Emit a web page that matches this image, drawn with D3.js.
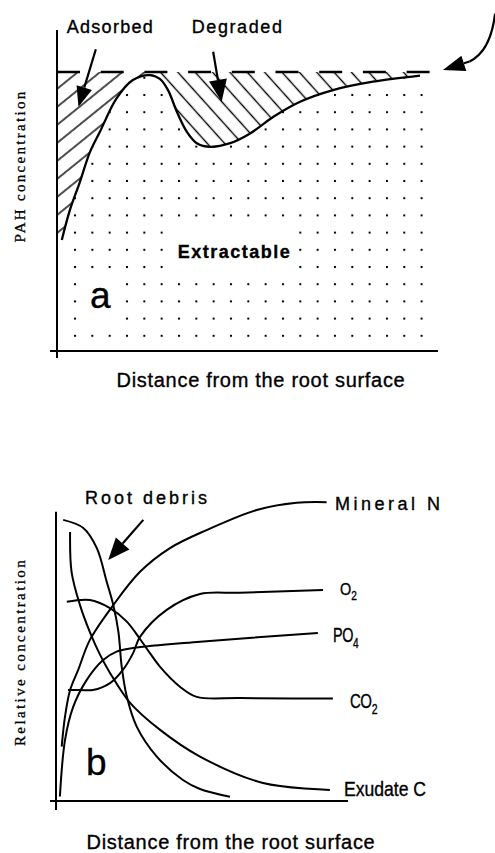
<!DOCTYPE html>
<html>
<head>
<meta charset="utf-8">
<script src="https://d3js.org/d3.v7.min.js"></script>
<style>
  body { margin: 0; background: #fff; }
  svg { display: block; }
  .sans { font-family: "Liberation Sans", Arial, Helvetica, sans-serif; stroke: #000; stroke-width: 0.35px; }
  .serif { font-family: "Liberation Serif", "Times New Roman", serif; stroke: #000; stroke-width: 0.3px; }
</style>
</head>
<body>
<svg id="chart" width="495" height="853"></svg>
<script>
////////// DATA //////////

// panel a : PAH concentration against distance (arbitrary units 0-100)
const pahDistance = [1.3, 3.5, 6.2, 8.9, 11.6, 16.1, 20.5, 25.1, 27.8, 30, 32.4, 35.1, 37.8, 41.4, 46.8, 52.2, 58.5, 65.7, 74.6, 85.4, 98.1];
const pahConc     = [39.6, 50.4, 60.5, 71.2, 78.5, 90.5, 97.1, 98.9, 97.5, 93.5, 85.7, 78.5, 74.4, 73.1, 74.4, 77.9, 83.9, 89.3, 93.5, 96.5, 98.7];
const initialConc = 100;   // dashed line
const peakIndex = 7;       // where adsorbed zone ends and degraded zone starts
const regionLabels = ["Adsorbed", "Degraded", "Extractable"];

// panel b : relative concentrations against distance
const seriesNames = ["Root debris", "Exudate C", "Mineral N", "O2", "PO4", "CO2"];
const rootDebris = [[2.4, 93.7], [9.1, 91], [13.6, 84.3], [16.9, 73.1], [19.1, 65.3], [20.8, 56.4], [21.9, 44.8], [23.6, 34.8], [26.9, 24.8], [33.6, 14.8], [42.3, 7], [48, 4], [58, 1.4]];
const exudateC   = [[4.7, 89.7], [5.2, 76.3], [8, 65.3], [11.3, 56.3], [14.7, 48.7], [18, 42.7], [24.7, 32.7], [34.7, 23.7], [48, 14.8], [69, 6], [91.3, 3.7]];
const mineralN   = [[1.9, 18.1], [3, 28.1], [4.7, 37], [7.4, 43.7], [11.3, 53.7], [19.1, 65.3], [28, 76.4], [38, 84.3], [50.2, 90.3], [66.9, 97], [80.2, 99.4], [90.2, 99.6]];
const oxygen     = [[4, 37], [8, 37], [12.3, 37], [18, 39.3], [22.3, 43.7], [25.7, 49.3], [28, 54.7], [36.9, 63.7], [48, 69], [61.3, 69.4], [89, 70.3]];
const phosphate  = [[1.3, 1.5], [3, 20.3], [5.7, 31.3], [10.2, 40.3], [15.7, 47], [20.2, 49.8], [25.7, 51], [48, 53.1], [87.3, 56]];
const carbonDiox = [[3.6, 66.4], [11.3, 67], [18, 64.3], [23.6, 59.8], [28, 54], [31.3, 49.3], [34.7, 44.7], [41.3, 38.1], [46.9, 34.7], [61.3, 34.3], [92.3, 34.2]];

const axisTitleX = "Distance from the root surface";
const axisTitleA = "PAH concentration";
const axisTitleB = "Relative concentration";

////////// SETUP //////////

const svg = d3.select("#chart");
const defs = svg.append("defs");

// panel a scales
const xA = d3.scaleLinear().domain([0, 100]).range([57, 427]);
const yA = d3.scaleLinear().domain([0, 100]).range([350, 72]);
// panel b scales
const xB = d3.scaleLinear().domain([0, 100]).range([56, 356]);
const yB = d3.scaleLinear().domain([0, 100]).range([801, 501]);

/**
 * line pattern, rotated by angle (degrees)
 */
function hatch(id, angle, gap) {
    const p = defs.append("pattern")
        .attr("id", id)
        .attr("patternUnits", "userSpaceOnUse")
        .attr("width", 20)
        .attr("height", gap)
        .attr("patternTransform", "rotate(" + angle + ")");
    p.append("line")
        .attr("x1", 0).attr("x2", 20)
        .attr("y1", gap / 2).attr("y2", gap / 2)
        .attr("stroke", "#000")
        .attr("stroke-width", 1.4);
}
hatch("hatchUp", -39, 14);
hatch("hatchDown", 48, 12.9);

// dot stipple for the extractable zone
const dotW = 17.33, dotH = 17.2;
const dots = defs.append("pattern")
    .attr("id", "dots")
    .attr("patternUnits", "userSpaceOnUse")
    .attr("x", 75 - dotW / 2).attr("y", 95 - dotH / 2)
    .attr("width", dotW).attr("height", dotH);
dots.append("rect")
    .attr("x", dotW / 2 - 1).attr("y", dotH / 2 - 1)
    .attr("width", 2).attr("height", 2)
    .attr("fill", "#000");

/**
 * draws a straight arrow with a filled head from tail to tip (pixels)
 */
function arrow(g, tail, tip, headLen, headW) {
    const dx = tip[0] - tail[0], dy = tip[1] - tail[1];
    const len = Math.hypot(dx, dy);
    const ux = dx / len, uy = dy / len;
    const bx = tip[0] - ux * headLen, by = tip[1] - uy * headLen;
    g.append("line")
        .attr("x1", tail[0]).attr("y1", tail[1])
        .attr("x2", bx).attr("y2", by)
        .attr("stroke", "#000").attr("stroke-width", 2.2);
    g.append("polygon")
        .attr("points", [
            tip,
            [bx - uy * headW / 2, by + ux * headW / 2],
            [bx + uy * headW / 2, by - ux * headW / 2]
        ].map(p => p.join(",")).join(" "))
        .attr("fill", "#000");
}

////////// PANEL A //////////

const ga = svg.append("g");
const pahPts = pahDistance.map((d, i) => [d, pahConc[i]]);
const curveA = d3.line()
    .x(d => xA(d[0]))
    .y(d => yA(d[1]))
    .curve(d3.curveCatmullRom.alpha(0.5));

// extractable zone (dots below the curve)
const extractArea = d3.area()
    .x(d => xA(d[0]))
    .y1(d => yA(d[1]))
    .y0(yA(2.8))
    .curve(d3.curveCatmullRom.alpha(0.5));
ga.append("path")
    .attr("d", extractArea(pahPts))
    .attr("fill", "url(#dots)");
const last = pahPts[pahPts.length - 1];
ga.append("rect")
    .attr("x", xA(last[0]))
    .attr("y", yA(last[1]) + 4)
    .attr("width", xA(100) - xA(last[0]))
    .attr("height", yA(2.8) - yA(last[1]) - 4)
    .attr("fill", "url(#dots)");

// adsorbed zone
const rising = pahPts.slice(0, peakIndex + 1);
ga.append("path")
    .attr("d", curveA(rising)
        + "L" + xA(rising[rising.length - 1][0]) + "," + yA(initialConc)
        + "L" + xA(0) + "," + yA(initialConc)
        + "L" + xA(0) + "," + yA(rising[0][1]) + "Z")
    .attr("fill", "url(#hatchUp)");

// degraded zone
const falling = pahPts.slice(peakIndex);
ga.append("path")
    .attr("d", curveA(falling)
        + "L" + xA(last[0]) + "," + yA(initialConc)
        + "L" + xA(falling[0][0]) + "," + yA(initialConc) + "Z")
    .attr("fill", "url(#hatchDown)");

// blank boxes behind the labels
ga.append("rect").attr("x", 165).attr("y", 224).attr("width", 130).attr("height", 51).attr("fill", "#fff");
ga.append("rect").attr("x", 84).attr("y", 276).attr("width", 34).attr("height", 50).attr("fill", "#fff");

// initial concentration
ga.append("line")
    .attr("x1", xA(0)).attr("x2", xA(100) + 3)
    .attr("y1", yA(initialConc)).attr("y2", yA(initialConc))
    .attr("stroke", "#000").attr("stroke-width", 2.6)
    .attr("stroke-dasharray", "23,20.7");

// PAH curve
ga.append("path")
    .attr("d", curveA(pahPts))
    .attr("fill", "none")
    .attr("stroke", "#000")
    .attr("stroke-width", 2.3);

// axes
ga.append("line")
    .attr("x1", xA(0)).attr("x2", xA(0))
    .attr("y1", 30).attr("y2", yA(0) + 8)
    .attr("stroke", "#000").attr("stroke-width", 2);
ga.append("line")
    .attr("x1", xA(0) - 7).attr("x2", 438)
    .attr("y1", yA(0) + 1).attr("y2", yA(0) + 1)
    .attr("stroke", "#000").attr("stroke-width", 2);

// arrows
arrow(ga, [xA(10.5), yA(108.2)], [xA(5.8), yA(87.5)], 20, 16);
arrow(ga, [xA(42.2), yA(107.3)], [xA(44.5), yA(89.3)], 22, 18);
ga.append("path")
    .attr("d", "M" + xA(118.4) + "," + yA(121) + " Q" + xA(117.2) + "," + yA(107.5) + " " + xA(111.5) + "," + yA(103.8))
    .attr("fill", "none").attr("stroke", "#000").attr("stroke-width", 2.2);
arrow(ga, [xA(111.5), yA(103.8)], [xA(104.3), yA(100.7)], 22, 16);

// labels
ga.append("text").attr("class", "sans")
    .attr("x", 66.7).attr("y", 33)
    .style("font-size", "18px").style("letter-spacing", "1.3px")
    .text(regionLabels[0]);
ga.append("text").attr("class", "sans")
    .attr("x", 191.7).attr("y", 33)
    .style("font-size", "18px").style("letter-spacing", "1.6px")
    .text(regionLabels[1]);
ga.append("text").attr("class", "sans")
    .attr("x", 177.7).attr("y", 258)
    .style("font-size", "18px").style("font-weight", "bold").style("letter-spacing", "1.5px")
    .text(regionLabels[2]);
ga.append("text").attr("class", "sans")
    .attr("x", 90).attr("y", 308)
    .style("font-size", "37px")
    .text("a");
ga.append("text").attr("class", "sans")
    .attr("x", 261).attr("y", 387)
    .attr("text-anchor", "middle")
    .style("font-size", "20px").style("letter-spacing", "0.7px")
    .text(axisTitleX);
ga.append("text").attr("class", "serif")
    .attr("transform", "translate(25,166) rotate(-90)")
    .attr("text-anchor", "middle")
    .style("font-size", "15px").style("letter-spacing", "2.3px")
    .text(axisTitleA);

////////// PANEL B //////////

const gb = svg.append("g");
const curveB = d3.line()
    .x(d => xB(d[0]))
    .y(d => yB(d[1]))
    .curve(d3.curveCatmullRom.alpha(0.5));

const series = [rootDebris, exudateC, mineralN, oxygen, phosphate, carbonDiox];
gb.selectAll("path.series")
    .data(series)
    .enter()
    .append("path")
    .attr("class", "series")
    .attr("d", d => curveB(d))
    .attr("fill", "none")
    .attr("stroke", "#000")
    .attr("stroke-width", 2);

// axes
gb.append("line")
    .attr("x1", xB(0)).attr("x2", xB(0))
    .attr("y1", 511.7).attr("y2", yB(0) + 9)
    .attr("stroke", "#000").attr("stroke-width", 2);
gb.append("line")
    .attr("x1", xB(0) - 6).attr("x2", 348)
    .attr("y1", yB(0)).attr("y2", yB(0))
    .attr("stroke", "#000").attr("stroke-width", 2);

// root debris arrow
arrow(gb, [xB(29.1), yB(93.7)], [xB(17.4), yB(80.3)], 22, 18);

gb.append("text").attr("class", "sans")
    .attr("x", 85).attr("y", 504)
    .style("font-size", "18px").style("letter-spacing", "3px")
    .text(seriesNames[0]);

/**
 * label at the end of a series, with optional subscript, squeezed horizontally by sx
 */
function endLabel(data, dx, dy, main, sub, size, spacing, sx) {
    const p = data[data.length - 1];
    const t = gb.append("text").attr("class", "sans")
        .attr("transform", "translate(" + (xB(p[0]) + dx) + "," + (yB(p[1]) + dy) + ") scale(" + sx + ",1)")
        .style("font-size", size + "px")
        .style("letter-spacing", spacing + "px");
    t.append("tspan").text(main);
    if (sub) {
        t.append("tspan")
            .attr("dy", size * 0.3)
            .style("font-size", (size * 0.7) + "px")
            .text(sub);
    }
    return t;
}
endLabel(mineralN, 8.5, 7.7, "Mineral N", null, 18, 3.5, 1);
endLabel(oxygen, 17, 5, "O", "2", 17, 0, 0.85);
endLabel(phosphate, 15, 9, "PO", "4", 20, -0.5, 0.72);
endLabel(carbonDiox, 17, 10, "CO", "2", 20, -0.5, 0.75);
endLabel(exudateC, 14, 6, "Exudate C", null, 20, 0, 0.88);

gb.append("text").attr("class", "sans")
    .attr("x", 86).attr("y", 775)
    .style("font-size", "37px")
    .text("b");
gb.append("text").attr("class", "sans")
    .attr("x", 231).attr("y", 849)
    .attr("text-anchor", "middle")
    .style("font-size", "20px").style("letter-spacing", "0.7px")
    .text(axisTitleX);
gb.append("text").attr("class", "serif")
    .attr("transform", "translate(25,652) rotate(-90)")
    .attr("text-anchor", "middle")
    .style("font-size", "15px").style("letter-spacing", "2.4px")
    .text(axisTitleB);
</script>
</body>
</html>
